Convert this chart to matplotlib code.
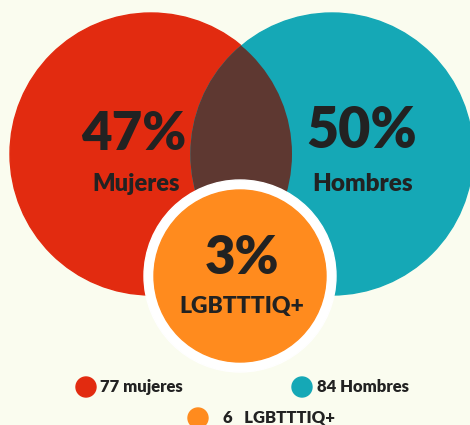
import matplotlib
matplotlib.use("Agg")
import matplotlib.pyplot as plt
from matplotlib.patches import Circle

# Data
groups = ["Mujeres", "Hombres", "LGBTTTIQ+"]
percentages = [47, 50, 3]
counts = [77, 84, 6]
legend_labels = ["77 mujeres", "84 Hombres", "6   LGBTTTIQ+"]

colors = ["#E22B10", "#15A8B6", "#FF8B1E"]
overlap_color = "#5E3831"
bg = "#FAFCEF"
ink = "#222222"

plt.rcParams["font.family"] = ["Lato", "DejaVu Sans"]

W, H = 470, 425
fig = plt.figure(figsize=(W / 100, H / 100), dpi=100, facecolor=bg)
ax = fig.add_axes([0, 0, 1, 1])
ax.set_xlim(0, W)
ax.set_ylim(H, 0)
ax.set_aspect("equal")
ax.axis("off")
ax.set_facecolor(bg)

R = 141
c_left = (151, 154)
c_right = (332, 154)

left = Circle(c_left, R, color=colors[0], zorder=1)
right = Circle(c_right, R, color=colors[1], zorder=1)
ax.add_patch(left)
ax.add_patch(right)

# overlap lens: right circle clipped to the left one
lens = Circle(c_right, R, color=overlap_color, zorder=2)
ax.add_patch(lens)
lens.set_clip_path(Circle(c_left, R, transform=ax.transData))

# small circle with white ring
c_small = (240, 276)
ax.add_patch(Circle(c_small, 96, color="white", zorder=3))
ax.add_patch(Circle(c_small, 86, color=colors[2], zorder=4))

# Big labels
big = dict(ha="center", va="center", color=ink, fontweight="heavy", zorder=5)
ax.text(134, 135, f"{percentages[0]}%", fontsize=38, **big)
ax.text(136, 184, groups[0], fontsize=17, **big)
ax.text(362, 131, f"{percentages[1]}%", fontsize=40, **big)
ax.text(363, 184, groups[1], fontsize=17.5, **big)
ax.text(242, 259, f"{percentages[2]}%", fontsize=38, **big)
ax.text(242, 307, groups[2], fontsize=16.5, **big)

# Legend
legend_pos = [(86, 387), (302, 387), (198, 418)]
text_x = [100, 317, 223]
for (x, y), tx, col, lab in zip(legend_pos, text_x, colors, legend_labels):
    ax.add_patch(Circle((x, y), 10, color=col, zorder=5))
    ax.text(tx, y, lab, ha="left", va="center", fontsize=12,
            fontweight="heavy", color=ink, zorder=5)

fig.savefig("out.png", dpi=100, facecolor=bg)
